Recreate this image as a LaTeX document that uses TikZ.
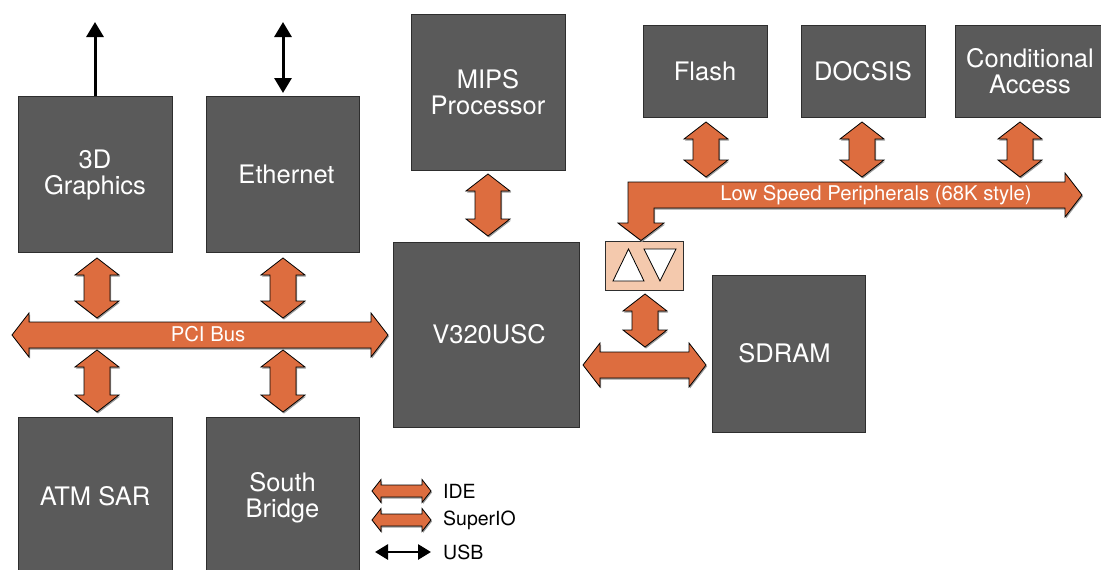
\documentclass[tikz,border=0pt]{standalone}
\usepackage{fontspec}
\setmainfont{TeX Gyre Heros}
\usetikzlibrary{arrows.meta,calc,shadows}
\definecolor{boxgray}{HTML}{5A5A5A}
\definecolor{boxline}{HTML}{2E2E2E}
\definecolor{busorange}{HTML}{DD6D3F}
\definecolor{peach}{HTML}{F4C9AD}
\tikzset{
  blk/.style={rectangle, draw=boxline, line width=0.8pt, fill=boxgray, text=white,
    align=center, inner sep=0pt, font=\fontsize{25.5}{26}\selectfont},
  fatarrow/.style={draw=black, line width=0.8pt, fill=busorange, line join=miter,
    drop shadow={shadow xshift=1pt, shadow yshift=-1.5pt, fill=black!40, opacity=1}},
  buslabel/.style={text=white, inner sep=0pt, font=\fontsize{20.3}{22}\selectfont},
  legtext/.style={text=black, anchor=west, inner sep=0pt, font=\fontsize{19.5}{20}\selectfont},
  blackarrow/.style={line width=3pt, draw=black}
}
% vertical fat double arrow: #1 top, #2 bottom, #3 shaft half, #4 head half, #5 head length
\newcommand\fatVs[5]{%
  \draw[fatarrow] let \p1=(#1), \p2=(#2) in
    (\x1,\y1) -- (\x1+#4,\y1-#5) -- (\x1+#3,\y1-#5) -- (\x1+#3,\y2+#5) -- (\x1+#4,\y2+#5)
    -- (\x1,\y2) -- (\x1-#4,\y2+#5) -- (\x1-#3,\y2+#5) -- (\x1-#3,\y1-#5) -- (\x1-#4,\y1-#5) -- cycle;}
% horizontal fat double arrow: #1 left, #2 right
\newcommand\fatHs[5]{%
  \draw[fatarrow] let \p1=(#1), \p2=(#2) in
    (\x1,\y1) -- (\x1+#5,\y1+#4) -- (\x1+#5,\y1+#3) -- (\x2-#5,\y1+#3) -- (\x2-#5,\y1+#4)
    -- (\x2,\y1) -- (\x2-#5,\y1-#4) -- (\x2-#5,\y1-#3) -- (\x1+#5,\y1-#3) -- (\x1+#5,\y1-#4) -- cycle;}
\newcommand\fatV[2]{\fatVs{#1}{#2}{13pt}{22pt}{17pt}}
\newcommand\fatH[2]{\fatHs{#1}{#2}{13pt}{22pt}{17pt}}
\begin{document}
\begin{tikzpicture}[x=1pt,y=-1pt]
\useasboundingbox (0,0) rectangle (1101,570);
\clip (0,0) rectangle (1101,570);

% blocks
\node[blk, minimum width=154, minimum height=156] (gfx) at (95,174.5) {\raisebox{2pt}{3D}\\\raisebox{2pt}{Graphics}};
\node[blk, minimum width=153, minimum height=156] (eth) at (282.5,174.5) {\hspace{8pt}Ethernet};
\node[blk, minimum width=154, minimum height=156] (mips) at (488,92) {MIPS\\Processor};
\node[blk, minimum width=124, minimum height=92] (flash) at (705,71) {Flash};
\node[blk, minimum width=124, minimum height=92] (docsis) at (863,71) {DOCSIS};
\node[blk, minimum width=150, minimum height=92] (cond) at (1030,71) {\raisebox{-3pt}{Conditional}\\\raisebox{-3pt}{Access}};
\node[blk, minimum width=186, minimum height=185] (v320) at (486,334.5) {\hspace{6pt}V320USC};
\node[blk, minimum width=153, minimum height=157] (sdram) at (788.5,353.5) {SDRAM\hspace{8pt}};
\node[blk, minimum width=154, minimum height=161] (atm) at (95,497.5) {\raisebox{3pt}{ATM SAR}};
\node[blk, minimum width=153, minimum height=161] (sb) at (282.5,497.5) {\raisebox{5pt}{South}\\\raisebox{5pt}{Bridge}};

% converter
\node[rectangle, draw=boxline, line width=0.8pt, fill=peach, minimum width=78, minimum height=49, inner sep=0pt] (conv) at (644,265.5) {};
\draw[fill=white, draw=black, line width=0.8pt] (613,281) -- (644,281) -- (628.5,249) -- cycle;
\draw[fill=white, draw=black, line width=0.8pt] (644,249) -- (676,249) -- (660,281) -- cycle;

% arrow end points
\coordinate (pciL) at (12,335);   \coordinate (pciR) at (388,335);
\coordinate (g1) at (97,258);  \coordinate (g2) at (97,318);
\coordinate (g3) at (97,350);  \coordinate (g4) at (97,412);
\coordinate (e1) at (283,258); \coordinate (e2) at (283,318);
\coordinate (e3) at (283,350); \coordinate (e4) at (283,412);
\coordinate (m1) at (488,174); \coordinate (m2) at (488,236);
\coordinate (s1) at (583,365); \coordinate (s2) at (706,365);
\coordinate (c1) at (645,294); \coordinate (c2) at (645,347);
\coordinate (f1) at (706,122); \coordinate (f2) at (706,177);
\coordinate (d1) at (862,122); \coordinate (d2) at (862,177);
\coordinate (a1) at (1020,122); \coordinate (a2) at (1020,177);

% fat arrows
\fatH{pciL}{pciR}
\node[buslabel] (pcilabel) at (208,334) {PCI Bus};
\fatV{g1}{g2} \fatV{g3}{g4}
\fatV{e1}{e2} \fatV{e3}{e4}
\fatV{m1}{m2}
\fatH{s1}{s2}
\fatV{c1}{c2}
\fatV{f1}{f2} \fatV{d1}{d2} \fatV{a1}{a2}

% low speed peripheral bus (L-shaped)
\draw[fatarrow] (628,182) -- (1065,182) -- (1065,173) -- (1082,195) -- (1065,217) -- (1065,208)
  -- (654,208) -- (654,223) -- (664,223) -- (641,240.5) -- (618,223) -- (628,223) -- cycle;
\node[buslabel] (lslabel) at (876,195) {Low Speed Peripherals (68K style)};

% black arrows
\coordinate (gfxout) at (95,22);
\draw[blackarrow, -{Triangle[length=15pt,width=17pt]}] (gfx.north) -- (gfxout);
\coordinate (ethtop) at (283,22); \coordinate (ethbot) at (283,93);
\draw[blackarrow, {Triangle[length=15pt,width=17pt]}-{Triangle[length=15pt,width=17pt]}] (ethbot) -- (ethtop);

% legend
\coordinate (l1a) at (372,491); \coordinate (l1b) at (431,491);
\coordinate (l2a) at (372,520); \coordinate (l2b) at (431,520);
\coordinate (l3a) at (375,552); \coordinate (l3b) at (431,552);
\fatHs{l1a}{l1b}{6pt}{11.5pt}{9pt}
\fatHs{l2a}{l2b}{6pt}{11.5pt}{9pt}
\draw[line width=2.8pt, {Triangle[length=13pt,width=15pt]}-{Triangle[length=13pt,width=15pt]}] (l3a) -- (l3b);
\node[legtext] (ide) at (443,491) {IDE};
\node[legtext] (sio) at (443,520) {SuperIO};
\node[legtext] (usb) at (443,552) {USB};
\end{tikzpicture}
\end{document}
